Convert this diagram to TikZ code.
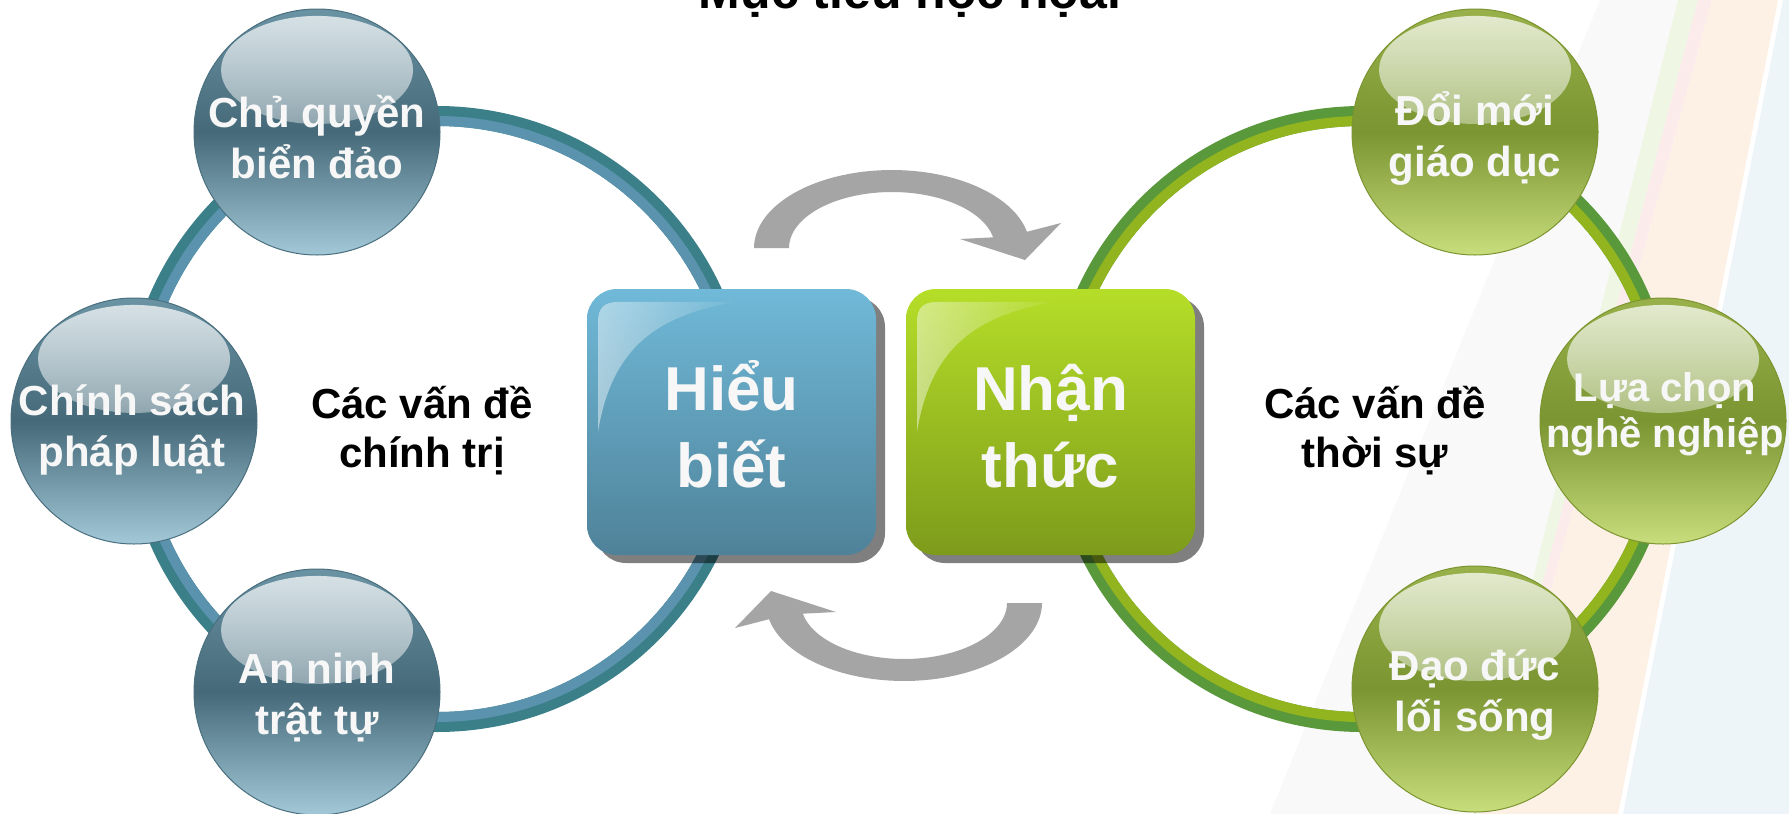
\documentclass[tikz,border=0pt]{standalone}
\usepackage{fontspec}
\setmainfont{Liberation Sans}
\usetikzlibrary{fadings,calc}
\definecolor{stripeGray}{HTML}{F9F9F9}
\definecolor{stripeGreen}{HTML}{EFF6E3}
\definecolor{stripePink}{HTML}{FCEBEB}
\definecolor{stripePeach}{HTML}{FDF1E5}
\definecolor{stripeBlue}{HTML}{EDF5F9}
\definecolor{ringBlueOut}{HTML}{3B8089}
\definecolor{ringBlueIn}{HTML}{5B93AE}
\definecolor{ringGreenOut}{HTML}{5A983C}
\definecolor{ringGreenIn}{HTML}{92B51F}
\definecolor{blueTop}{HTML}{6A93A3}
\definecolor{blueMid}{HTML}{456979}
\definecolor{blueBot}{HTML}{A3C9D8}
\definecolor{blueEdge}{HTML}{4A6F7F}
\definecolor{greenTop}{HTML}{98B14A}
\definecolor{greenMid}{HTML}{7A9531}
\definecolor{greenBot}{HTML}{C8DD7C}
\definecolor{greenEdge}{HTML}{7C9530}
\definecolor{boxBlueTop}{HTML}{70B9D8}
\definecolor{boxBlueBot}{HTML}{4F8299}
\definecolor{boxGreenTop}{HTML}{B5DE28}
\definecolor{boxGreenBot}{HTML}{7D9B1B}
\definecolor{arrowGray}{HTML}{A5A5A5}
\definecolor{textWhite}{HTML}{F7F7F7}
\tikzfading[name=glossv, top color=transparent!25, middle color=transparent!82, bottom color=transparent!100]
\tikzfading[name=glossb, left color=transparent!55, right color=transparent!96]
\tikzset{
  bubble/.style={circle, minimum size=246pt, inner sep=0pt, line width=1pt,
    path picture={\fill[white, path fading=glossv]
      ([yshift=62pt]path picture bounding box.center) ellipse [x radius=96pt, y radius=54pt];}},
  bluebubble/.style={bubble, draw=blueEdge, top color=blueTop, bottom color=blueBot, middle color=blueMid},
  greenbubble/.style={bubble, draw=greenEdge, top color=greenTop, bottom color=greenBot, middle color=greenMid},
  bubbletext/.style={align=center, text=textWhite, inner sep=0pt,
    font=\bfseries\fontsize{42pt}{51pt}\selectfont},
  issuetext/.style={align=center, text=black, inner sep=0pt,
    font=\bfseries\fontsize{42pt}{49pt}\selectfont},
  bigbox/.style={rectangle, rounded corners=30pt, minimum width=289pt, minimum height=266pt, inner sep=0pt},
  boxtext/.style={align=center, text=textWhite, inner sep=0pt,
    font=\bfseries\fontsize{62pt}{77pt}\selectfont},
  boxshadow/.style={fill=black, fill opacity=0.5, rounded corners=30pt},
  cyclearrow/.style={fill=arrowGray},
  ringout/.style={line width=20pt},
  ringin/.style={line width=10pt}
}
\begin{document}
\begin{tikzpicture}[x=1pt, y=-1pt]
\useasboundingbox (0,0) rectangle (1789,814);
\fill[white] (0,0) rectangle (1789,814);
% background stripes
\fill[stripeGray] (1270,814) -- (1474,814) -- (1678,0) -- (1600,0) -- cycle;
\fill[stripeGreen] (1474,814) -- (1481,814) -- (1698,0) -- (1678,0) -- cycle;
\fill[stripePink] (1481,814) -- (1490,814) -- (1712,0) -- (1698,0) -- cycle;
\fill[stripePeach] (1490,814) -- (1618,814) -- (1778,0) -- (1712,0) -- cycle;
\fill[stripeBlue] (1623,814) -- (1789,814) -- (1789,0) -- (1783,0) -- cycle;
% title (mostly cut off at the top edge, as in the reference)
\node[anchor=base, inner sep=0pt, font=\bfseries\fontsize{50pt}{60pt}\selectfont] (title) at (910,8) {Mục tiêu học họai};
% rings
\coordinate (lc) at (437,419);
\coordinate (rc) at (1362,419);
\draw[ringout, ringBlueOut] (lc) circle (303pt);
\draw[ringin, ringBlueIn] (lc) circle (298pt);
\draw[ringout, ringGreenOut] (rc) circle (303pt);
\draw[ringin, ringGreenIn] (rc) circle (298pt);
% cycle arrows
\fill[cyclearrow] plot[domain=180:348, samples=50] ({892+138*cos(\x)},{248+78*sin(\x)})
  -- (1061,223) -- (1025,260) -- (960,239)
  -- plot[domain=349:180, samples=50] ({892+103*cos(\x)},{248+56*sin(\x)}) -- cycle;
\begin{scope}[rotate around={180:(898,425.5)}]
\fill[cyclearrow] plot[domain=180:348, samples=50] ({892+138*cos(\x)},{248+78*sin(\x)})
  -- (1061,223) -- (1025,260) -- (960,239)
  -- plot[domain=349:180, samples=50] ({892+103*cos(\x)},{248+56*sin(\x)}) -- cycle;
\end{scope}
% boxes
\fill[boxshadow] (596,297) rectangle (885,563);
\fill[boxshadow] (915,297) rectangle (1204,563);
\node[bigbox, top color=boxBlueTop, bottom color=boxBlueBot] (hb) at (731.5,422) {};
\node[bigbox, top color=boxGreenTop, bottom color=boxGreenBot] (nt) at (1050.5,422) {};
\fill[white, path fading=glossb] (598,432) -- (598,322) .. controls (598,308) and (604,302) .. (618,302)
  -- (735,302) .. controls (660,315) and (612,345) .. (598,432) -- cycle;
\fill[white, path fading=glossb] (917,432) -- (917,322) .. controls (917,308) and (923,302) .. (937,302)
  -- (1054,302) .. controls (979,315) and (931,345) .. (917,432) -- cycle;
\node[boxtext, anchor=base] (hbt) at (731.5,487) {Hiểu\\biết};
\node[boxtext, anchor=base] (ntt) at (1050.5,487) {Nhận\\thức};
% bubbles
\node[bluebubble] (cq) at (317,132) {};
\node[bluebubble] (cs) at (134,421) {};
\node[bluebubble] (an) at (317,692) {};
\node[greenbubble] (dm) at (1475,132) {};
\node[greenbubble] (lc2) at (1663,421) {};
\node[greenbubble] (dd) at (1475,689) {};
\node[bubbletext, anchor=base] (cqt) at (317,178) {Chủ quyền\\biển đảo};
\node[bubbletext, anchor=base] (cst) at (132,466) {Chính sách\\pháp luật};
\node[bubbletext, anchor=base] (ant) at (317,734) {An ninh\\trật tự};
\node[bubbletext, anchor=base] (dmt) at (1475,176) {Đổi mới\\giáo dục};
\node[bubbletext, anchor=base, font=\bfseries\fontsize{40pt}{46pt}\selectfont] (lct) at (1665,447) {Lựa chọn\\nghề nghiệp};
\node[bubbletext, anchor=base] (ddt) at (1475,731) {Đạo đức\\lối sống};
% issue labels
\node[issuetext, anchor=base] (pol) at (422,467) {Các vấn đề\\chính trị};
\node[issuetext, anchor=base] (cur) at (1375,467) {Các vấn đề\\thời sự};
\end{tikzpicture}
\end{document}
